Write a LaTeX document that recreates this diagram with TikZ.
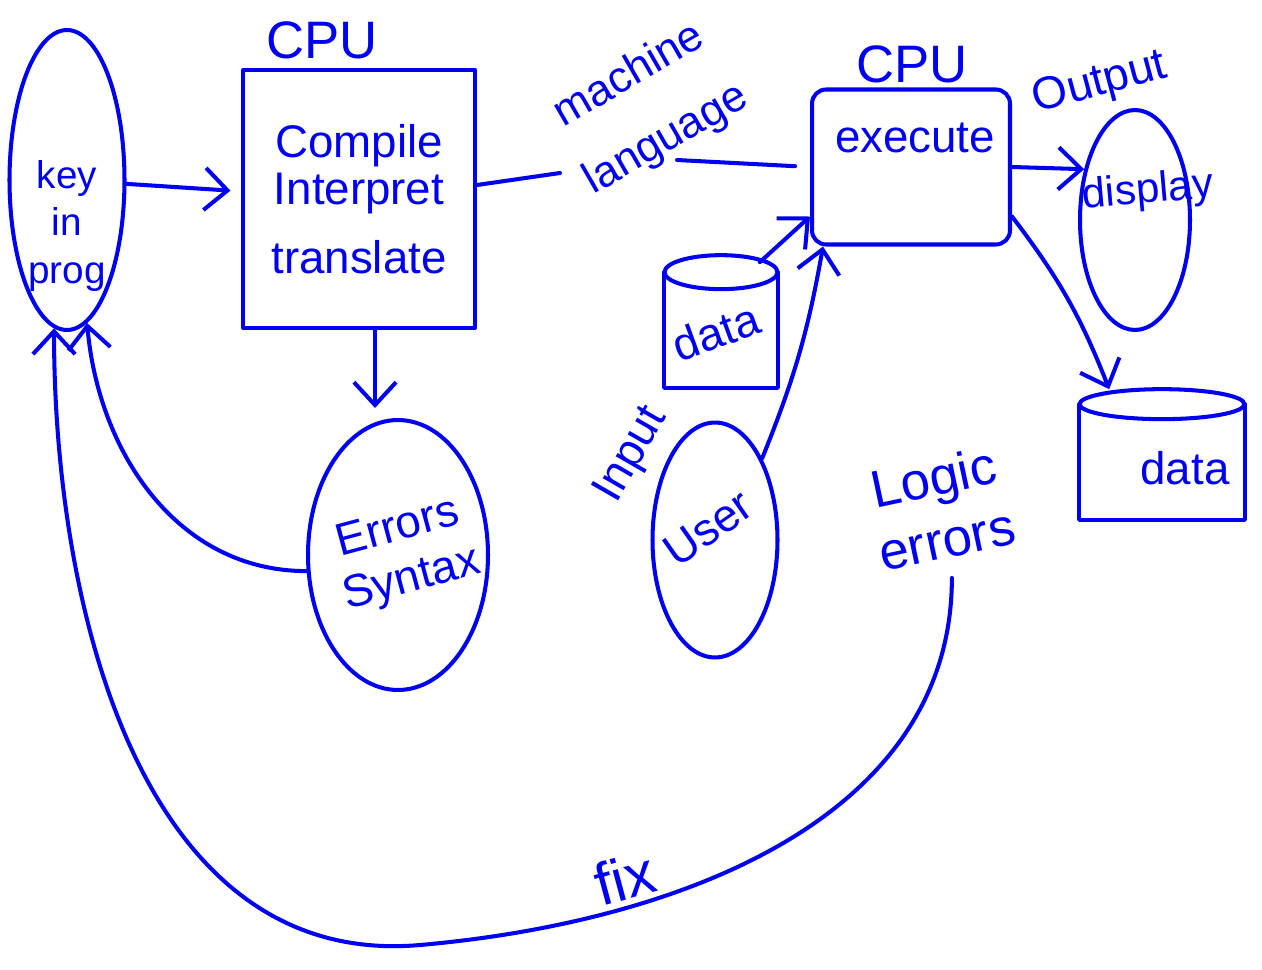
\documentclass[tikz,border=0pt]{standalone}
\usepackage{fontspec}
\setmainfont{Liberation Sans}
\usetikzlibrary{shapes.geometric,arrows.meta}
\definecolor{penblue}{RGB}{0,0,240}

\begin{document}
\begin{tikzpicture}[x=0.02cm, y=-0.02cm,
    ink/.style={draw=penblue, line width=2.3pt, line cap=round, line join=round},
    box/.style={ink, align=center, text=penblue, font=\fontsize{26}{27}\selectfont},
    blob/.style={ink, ellipse, inner sep=0pt},
    drum/.style={inner sep=0pt},
    arrow/.style={ink, -{Straight Barb[length=13pt, width=24pt, line width=2.3pt]}},
    hand/.style={text=penblue, align=center, font=\fontsize{26}{30}\selectfont}
]
    \useasboundingbox (0,0) rectangle (1262,970);

    % Program entry and translation
    \node[blob, minimum width=2.3cm, minimum height=6cm] (key) at (67,180) {};
    \node[hand, font=\fontsize{22}{27}\selectfont] (keytext) at (67,226) {key\\in\\prog};
    \node[box, minimum width=4.64cm, minimum height=5.16cm] (cpuA) at (359,199) {Compile\\Interpret\\[12pt]translate};
    \node[hand, font=\fontsize{30}{34}\selectfont] (cpuAlbl) at (322,40) {CPU};
    \node[blob, minimum width=3.6cm, minimum height=5.4cm] (errs) at (398,555) {};
    \node[hand, rotate=15] (errstext) at (405,555) {Errors\\Syntax};

    % Execution
    \node[box, rounded corners=8pt, minimum width=3.96cm, minimum height=3.1cm] (cpuB) at (911,167) {};
    \node[hand] (exe) at (915,138) {execute};
    \node[hand, font=\fontsize{30}{34}\selectfont] (cpuBlbl) at (912,64) {CPU};
    \node[hand, rotate=30, font=\fontsize{25}{42}\selectfont] (mlang) at (648,108) {machine\\language};
    \coordinate (mlA) at (560,173);
    \coordinate (mlB) at (677,160);

    % Input side
    \node[drum, minimum width=2.26cm, minimum height=2.3cm] (dataL) at (721,330) {};
    \draw[ink] (dataL.north) ellipse [x radius=1.13cm, y radius=0.34cm];
    \draw[ink] (dataL.north west) -- (dataL.south west) -- (dataL.south east) -- (dataL.north east);
    \node[hand, rotate=20] (dataLtext) at (716,332) {data};
    \node[blob, minimum width=2.5cm, minimum height=4.7cm] (user) at (715,540) {};
    \node[hand, rotate=35] (usertext) at (708,528) {User};
    \node[hand, rotate=60] (inlbl) at (632,455) {Input};

    % Output side
    \node[hand, rotate=15] (outlbl) at (1100,84) {Output};
    \node[blob, minimum width=2.2cm, minimum height=4.4cm] (disp) at (1135,220) {};
    \node[hand, font=\fontsize{24}{28}\selectfont, rotate=5] (disptext) at (1148,192) {display};
    \node[drum, minimum width=3.3cm, minimum height=2.3cm] (dataR) at (1162,462) {};
    \draw[ink] (dataR.north) ellipse [x radius=1.65cm, y radius=0.3cm];
    \draw[ink] (dataR.north west) -- (dataR.south west) -- (dataR.south east) -- (dataR.north east);
    \node[hand] (dataRtext) at (1185,468) {data};

    % Feedback labels
    \node[hand, rotate=12, font=\fontsize{30}{36}\selectfont] (logic) at (940,508) {Logic\\errors};
    \node[hand, rotate=15, font=\fontsize{34}{38}\selectfont] (fix) at (625,878) {fix};
    \coordinate (bot) at (420,945);

    % Connectors
    \draw[arrow, shorten >=6pt] (key) -- (cpuA);
    \draw[arrow] ([xshift=0.32cm]cpuA.south) -- ([xshift=0.32cm, yshift=0.2cm]cpuA.south |- errs.north);
    \draw[arrow] (errs.190) to[out=180, in=-85] (key.-82);
    \draw[ink] ([yshift=0.28cm]cpuA.east) -- (mlA);
    \draw[ink, shorten >=0.3cm] (mlB) -- (cpuB.west);
    \draw[arrow] ([xshift=-0.36cm, yshift=0.2cm]dataL.north east) -- ([yshift=0.6cm]cpuB.south west);
    \draw[arrow] (user.60) to[bend right=6] ([xshift=0.26cm]cpuB.south west);
    \draw[arrow] (cpuB.east) -- (disp.135);
    \draw[arrow] ([yshift=0.6cm]cpuB.south east) to[bend left=8] ([xshift=0.6cm, yshift=0.3cm]dataR.north west);
    \draw[arrow, shorten <=8pt] (logic.south) to[out=-90, in=5] (bot) to[out=185, in=-90] (key.-95);
\end{tikzpicture}
\end{document}
